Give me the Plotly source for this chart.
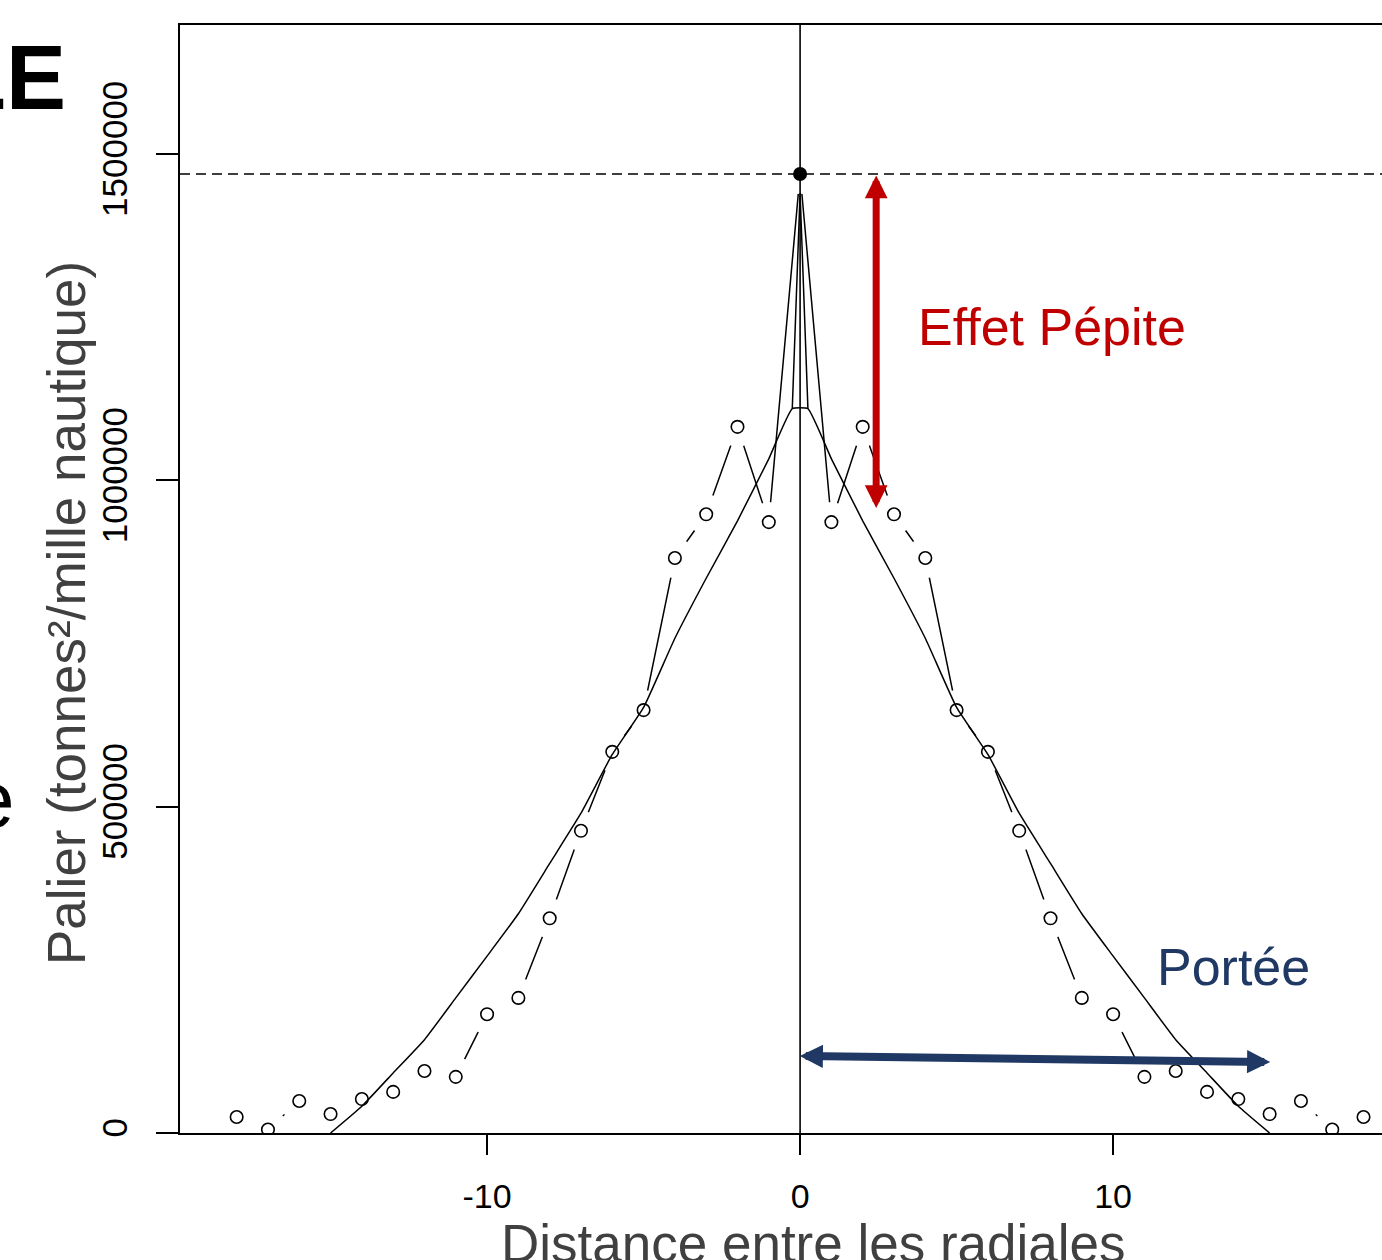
import plotly.graph_objects as go

# Experimental covariogram: lag distance (between radials) and value, right half (h >= 1)
lag_right = list(range(1, 19))
cov_right = [936000, 1082000, 948000, 881000, 648000, 584000, 463000, 329000, 207000,
             182000, 86000, 95000, 63000, 52000, 29000, 49000, 5400, 24500]
cov_origin = 1469500  # value at lag 0 (total variance / sill)

# Fitted model, right half
model_lag_right = [0.25, 1, 2, 3, 4, 5, 6, 7, 8, 9, 10, 11, 12, 13, 14, 15]
model_right = [1110000, 1033000, 938000, 850000, 758000, 652000, 580000, 490000, 413000,
               336000, 271000, 207000, 143000, 92000, 41000, 0]
model_origin = 1440000

# Annotation levels
nugget_top, nugget_bottom, nugget_lag = 1469500, 957600, 2.43
range_start, range_end = -0.06, 15.02
range_level_start, range_level_end = 118000, 108800

x_ticks = [-10, 0, 10]
y_ticks = [0, 500000, 1000000, 1500000]

# Both halves (the covariogram is symmetric)
lags = [-h for h in reversed(lag_right)] + [0] + lag_right
covs = list(reversed(cov_right)) + [cov_origin] + cov_right
model_lags = [-h for h in reversed(model_lag_right)] + model_lag_right
model_vals = list(reversed(model_right)) + model_right
spike_lags = [-model_lag_right[0], 0, model_lag_right[0]]
spike_vals = [model_right[0], model_origin, model_right[0]]

FONT = "Liberation Sans, Arial, sans-serif"
W, H = 1382, 1260
L, R, T, B = 180, 0, 25, 127

fig = go.Figure()

# lines joining the points (R type="b": broken around each point)
fig.add_trace(go.Scatter(x=lags, y=covs, mode="lines",
                         line=dict(color="black", width=1.5), hoverinfo="skip"))
# white discs open the gaps around each point
fig.add_trace(go.Scatter(x=lags, y=covs, mode="markers",
                         marker=dict(color="white", size=40, line=dict(width=0)),
                         hoverinfo="skip"))
# model
fig.add_trace(go.Scatter(x=model_lags, y=model_vals, mode="lines",
                         line=dict(color="black", width=1.5, shape="spline", smoothing=0.4),
                         hoverinfo="skip"))
fig.add_trace(go.Scatter(x=spike_lags, y=spike_vals, mode="lines",
                         line=dict(color="black", width=1.5), hoverinfo="skip"))
# points
pts_x = [h for h in lags if h != 0]
pts_y = [c for h, c in zip(lags, covs) if h != 0]
fig.add_trace(go.Scatter(x=pts_x, y=pts_y, mode="markers",
                         marker=dict(symbol="circle-open", size=12.5, color="black",
                                     line=dict(width=1.6, color="black"))))
fig.add_trace(go.Scatter(x=[0], y=[cov_origin], mode="markers",
                         marker=dict(symbol="circle", size=14, color="black")))

# sill line and origin line
fig.add_shape(type="line", xref="paper", x0=0, x1=1, yref="y", y0=cov_origin, y1=cov_origin,
              line=dict(color="black", width=1.6, dash="10px,6px"), layer="above")
fig.add_shape(type="line", xref="x", x0=0, x1=0, yref="paper", y0=0, y1=1,
              line=dict(color="black", width=1.6), layer="above")

# arrows
fig.add_annotation(x=nugget_lag, y=nugget_bottom, ax=nugget_lag, ay=nugget_top,
                   xref="x", yref="y", axref="x", ayref="y", text="", showarrow=True,
                   arrowhead=2, startarrowhead=2, arrowside="end+start",
                   arrowsize=0.65, startarrowsize=0.65, arrowwidth=7,
                   arrowcolor="#C00000", standoff=0, startstandoff=0)
fig.add_annotation(x=range_end, y=range_level_end, ax=range_start, ay=range_level_start,
                   xref="x", yref="y", axref="x", ayref="y", text="", showarrow=True,
                   arrowhead=2, startarrowhead=2, arrowside="end+start",
                   arrowsize=0.58, startarrowsize=0.58, arrowwidth=8,
                   arrowcolor="#1F3864", standoff=0, startstandoff=0)


def px(xp):
    return (xp - L) / (W - L - R)


def py(yp):
    return (H - B - yp) / (H - B - T)


fig.add_annotation(x=px(916), y=py(327), xref="paper", yref="paper", text="Effet Pépite",
                   showarrow=False, xanchor="left", yanchor="middle",
                   font=dict(family=FONT, size=52, color="#C00000"))
fig.add_annotation(x=px(1155), y=py(967), xref="paper", yref="paper", text="Portée",
                   showarrow=False, xanchor="left", yanchor="middle",
                   font=dict(family=FONT, size=52, color="#1F3864"))

# axis titles
fig.add_annotation(x=px(66), y=py(613), xref="paper", yref="paper",
                   text="Palier (tonnes²/mille nautique)", textangle=-90,
                   showarrow=False, xanchor="center", yanchor="middle",
                   font=dict(family=FONT, size=53, color="#404040"))
fig.add_annotation(x=px(813), y=py(1212), xref="paper", yref="paper",
                   text="Distance entre les radiales",
                   showarrow=False, xanchor="center", yanchor="top",
                   font=dict(family=FONT, size=53, color="#404040"))

# slide text around the chart
fig.add_annotation(x=px(68), y=py(78), xref="paper", yref="paper", text="<b>LE</b>",
                   showarrow=False, xanchor="right", yanchor="middle",
                   font=dict(family=FONT, size=90, color="black"))
fig.add_annotation(x=px(17), y=py(800), xref="paper", yref="paper", text="e",
                   showarrow=False, xanchor="right", yanchor="middle",
                   font=dict(family=FONT, size=80, color="black"))

fig.update_layout(
    width=W, height=H, margin=dict(l=L, r=R, t=T, b=B),
    paper_bgcolor="white", plot_bgcolor="white", showlegend=False,
    font=dict(family=FONT, color="black"),
    xaxis=dict(range=[-19.81, 18.59], tickvals=x_ticks, ticktext=[str(v) for v in x_ticks],
               ticks="outside", ticklen=20, tickwidth=2, tickcolor="black",
               showline=True, linecolor="black", linewidth=2, mirror=True,
               showgrid=False, zeroline=False, ticklabelstandoff=12,
               tickfont=dict(family=FONT, size=34, color="black")),
    yaxis=dict(range=[0, 1697700], tickvals=y_ticks, ticktext=[str(v) for v in y_ticks],
               tickangle=-90, ticks="outside", ticklen=22, tickwidth=2, tickcolor="black",
               showline=True, linecolor="black", linewidth=2, mirror=False,
               showgrid=False, zeroline=False, ticklabelstandoff=15,
               tickfont=dict(family=FONT, size=35, color="black")),
)

fig.write_html("out.html")
